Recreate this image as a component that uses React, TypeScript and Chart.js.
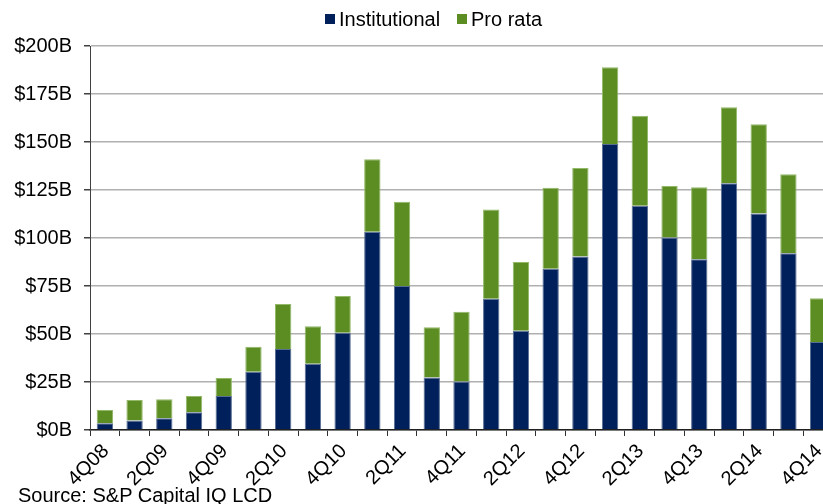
import React, { useEffect, useRef } from "react";
import { Chart, registerables } from "chart.js";

Chart.register(...registerables);

// Quarterly leveraged-loan volume, $ billions
const quarters = [
  "4Q08", "1Q09", "2Q09", "3Q09", "4Q09", "1Q10", "2Q10", "3Q10", "4Q10",
  "1Q11", "2Q11", "3Q11", "4Q11", "1Q12", "2Q12", "3Q12", "4Q12",
  "1Q13", "2Q13", "3Q13", "4Q13", "1Q14", "2Q14", "3Q14", "4Q14",
];
const institutional = [
  3.5, 4.9, 6.1, 9.2, 17.7, 30.4, 42.2, 34.5, 50.7,
  103.3, 75.0, 27.3, 25.2, 68.4, 51.7, 84.0, 90.3,
  149.0, 116.8, 100.2, 88.9, 128.5, 112.8, 92.0, 45.8,
];
const proRata = [
  6.9, 10.7, 9.9, 8.5, 9.4, 13.0, 23.4, 19.5, 19.1,
  37.7, 43.9, 26.2, 36.4, 46.5, 35.8, 42.2, 46.2,
  39.9, 46.9, 26.9, 37.5, 39.6, 46.4, 41.2, 22.8,
];
const yTicks = [0, 25, 50, 75, 100, 125, 150, 175, 200];

const NAVY = "#00205B";
const GREEN = "#5B8D22";
const FONT = "'Liberation Sans', Arial, sans-serif";

export default function App() {
  const canvasRef = useRef<HTMLCanvasElement>(null);

  useEffect(() => {
    const canvas = canvasRef.current;
    if (!canvas) return;
    const chart = new Chart(canvas, {
      type: "bar",
      data: {
        labels: quarters,
        datasets: [
          {
            label: "Institutional",
            data: institutional,
            backgroundColor: NAVY,
            borderColor: "#5A6E94",
            borderWidth: 1,
          },
          {
            label: "Pro rata",
            data: proRata,
            backgroundColor: GREEN,
            borderColor: "#92B868",
            borderWidth: 1,
          },
        ],
      },
      options: {
        responsive: false,
        animation: false,
        devicePixelRatio: 1,
        layout: { padding: { top: 46, right: 12, bottom: 0, left: 0 } },
        datasets: {
          bar: { categoryPercentage: 1, barPercentage: 0.55 },
        },
        plugins: {
          legend: { display: false },
          tooltip: { enabled: false },
        },
        scales: {
          x: {
            stacked: true,
            afterFit: (scale: any) => {
              scale.height = 74;
            },
            grid: {
              offset: true,
              drawOnChartArea: false,
              drawTicks: true,
              tickLength: 6,
              tickColor: "#303030",
            },
            border: { color: "#202020", width: 1.5 },
            ticks: {
              autoSkip: false,
              minRotation: 45,
              maxRotation: 45,
              padding: 3.5,
              labelOffset: 1,
              color: "#000",
              font: { family: FONT, size: 20 },
              callback: (_v: any, i: number) => (i % 2 === 0 ? quarters[i] : ""),
            },
          },
          y: {
            stacked: true,
            min: yTicks[0],
            max: yTicks[yTicks.length - 1],
            afterFit: (scale: any) => {
              scale.width = 90;
            },
            afterBuildTicks: (scale: any) => {
              scale.ticks = yTicks.map((v) => ({ value: v }));
            },
            grid: {
              color: "#B0B0B0",
              lineWidth: 1.5,
              tickColor: "#404040",
              tickLength: 6,
            },
            border: { color: "#404040", width: 1 },
            ticks: {
              padding: 12,
              color: "#000",
              font: { family: FONT, size: 20 },
              callback: (v: any) => "$" + v + "B",
            },
          },
        },
      },
    });
    return () => chart.destroy();
  }, []);

  const legendText: React.CSSProperties = {
    position: "absolute",
    top: 9,
    fontFamily: FONT,
    fontSize: 20,
    lineHeight: "20px",
    color: "#000",
    whiteSpace: "nowrap",
  };
  const swatch = (left: number, color: string): React.CSSProperties => ({
    position: "absolute",
    left,
    top: 14,
    width: 10,
    height: 10,
    background: color,
  });

  return (
    <div
      style={{
        position: "fixed",
        left: 0,
        top: 0,
        width: 823,
        height: 504,
        overflow: "hidden",
        background: "#fff",
      }}
    >
      <canvas ref={canvasRef} width={845} height={504} style={{ display: "block" }} />
      <div style={swatch(325, NAVY)} />
      <div style={{ ...legendText, left: 339 }}>Institutional</div>
      <div style={swatch(457, GREEN)} />
      <div style={{ ...legendText, left: 471 }}>Pro rata</div>
      <div
        style={{
          position: "absolute",
          left: 18,
          top: 484.5,
          fontFamily: FONT,
          fontSize: 20,
          lineHeight: "20px",
          color: "#000",
          whiteSpace: "nowrap",
        }}
      >
        Source: S&amp;P Capital IQ LCD
      </div>
    </div>
  );
}
